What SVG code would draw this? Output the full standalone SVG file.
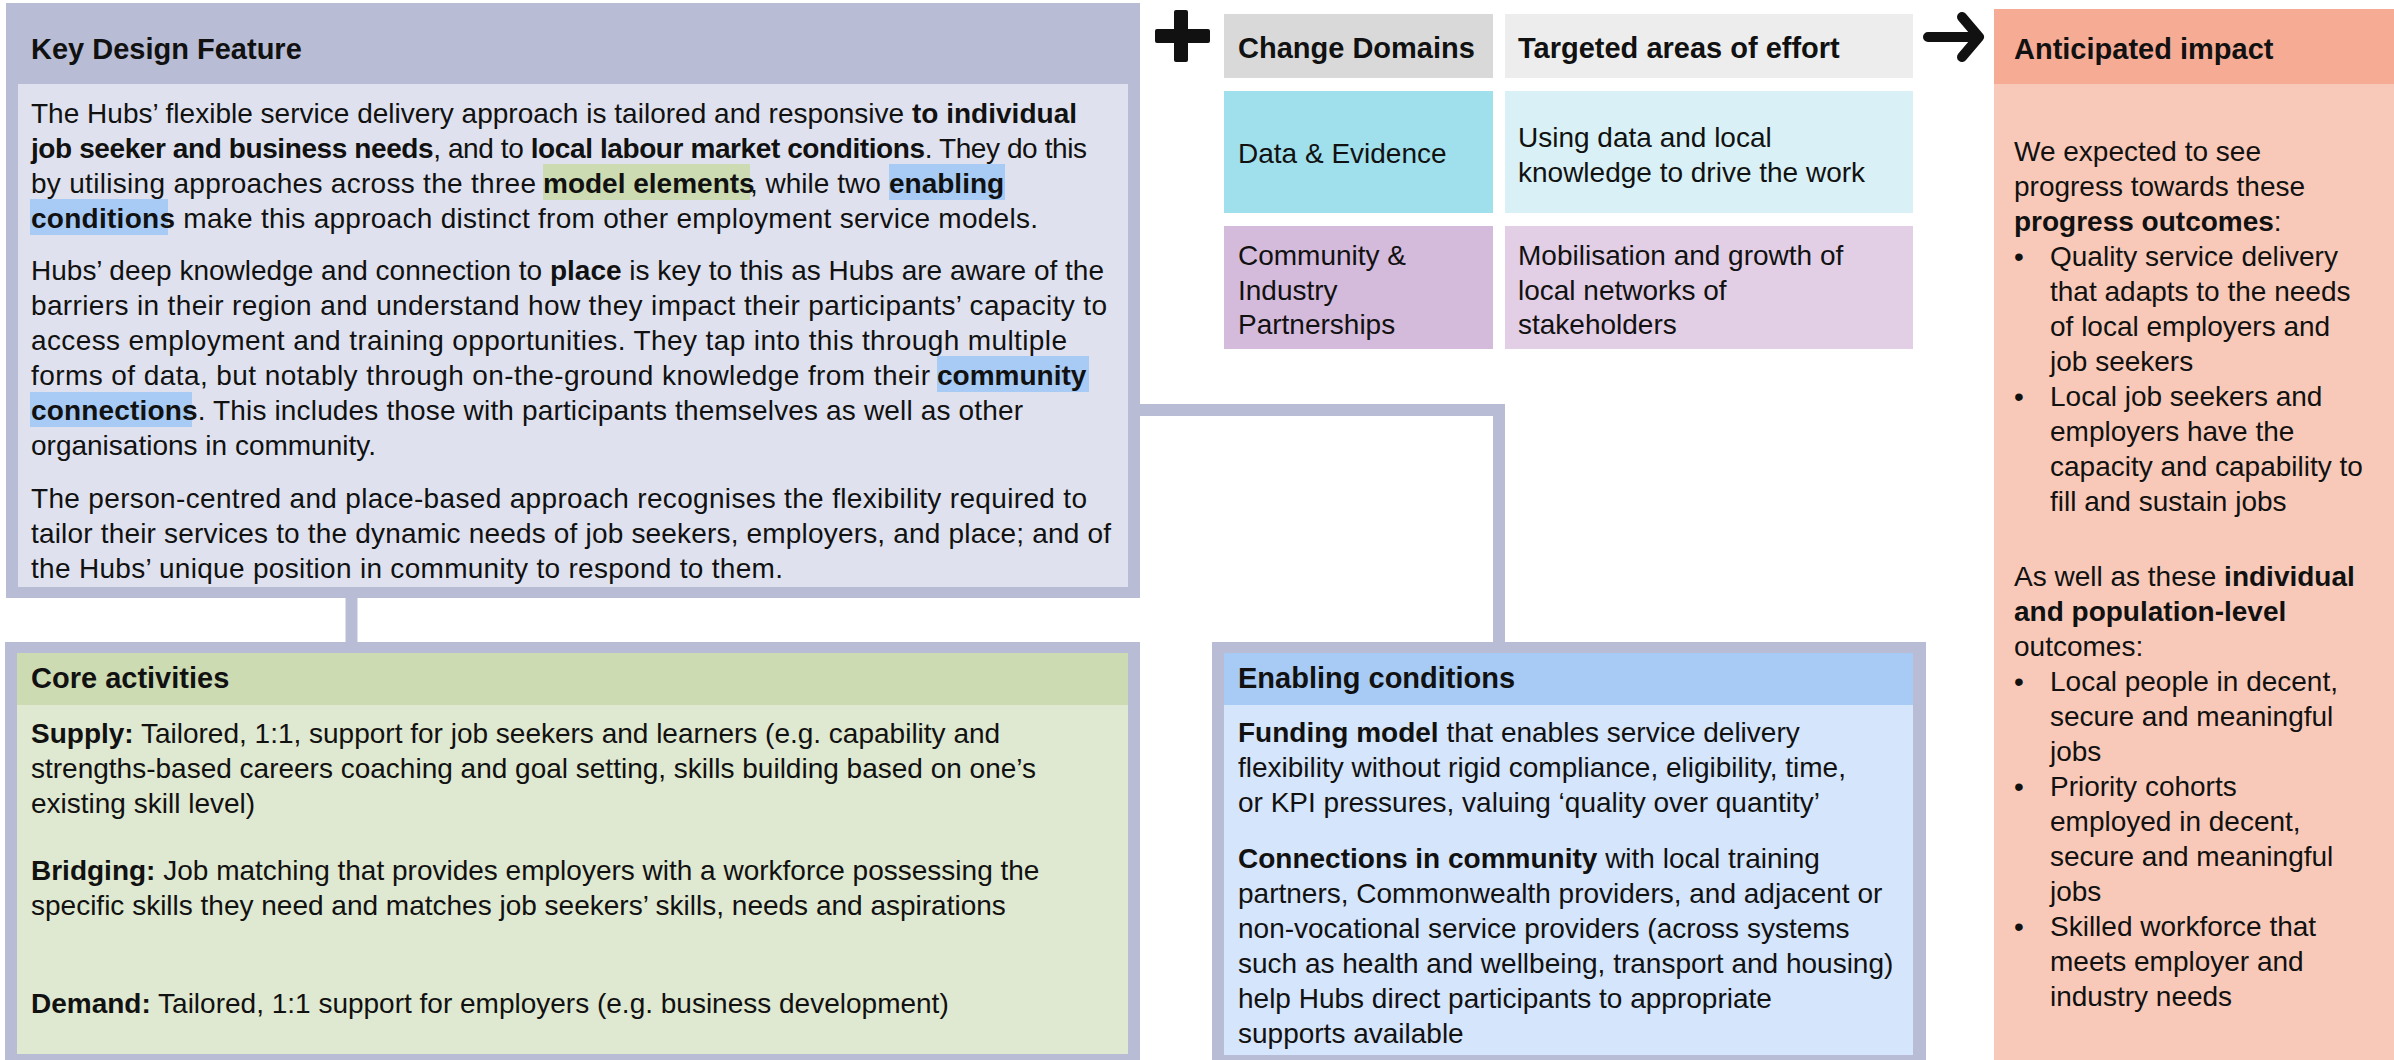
<svg xmlns="http://www.w3.org/2000/svg" width="2394" height="1060" viewBox="0 0 2394 1060">
<style>
text{font-family:"Liberation Sans",Arial,sans-serif;font-size:28px;fill:#111}
.h{font-weight:bold;font-size:29px}
.b{font-weight:bold}
.frame{fill:#b8bdd5}
.conn{fill:none;stroke:#b8bdd5;stroke-width:12;stroke-linejoin:miter}
</style>
<rect width="2394" height="1060" fill="#ffffff"/>
<g id="connectors">
<path class="conn" d="M351.5 598 V643"/>
<path class="conn" d="M1140 410 H1499 V643"/>
</g>
<g id="key-design-feature">
<rect class="frame" x="6" y="3" width="1134" height="595"/>
<rect x="18" y="84" width="1110" height="503" fill="#dfe2ee"/>
<rect x="543" y="164" width="207" height="36" fill="#cddbb3"/>
<rect x="889" y="164" width="116" height="36" fill="#a8cbf5"/>
<rect x="30" y="199" width="138" height="36" fill="#a8cbf5"/>
<rect x="937" y="356" width="152" height="36" fill="#a8cbf5"/>
<rect x="30" y="392" width="162" height="35" fill="#a8cbf5"/>
<text class="h" x="31" y="59">Key Design Feature</text>
<text x="31" y="123" textLength="1046" lengthAdjust="spacing">The Hubs’ flexible service delivery approach is tailored and responsive <tspan class="b">to individual</tspan></text>
<text x="31" y="158" textLength="1056" lengthAdjust="spacing"><tspan class="b">job seeker and business needs</tspan>, and to <tspan class="b">local labour market conditions</tspan>. They do this</text>
<text x="31" y="193" textLength="505" lengthAdjust="spacing">by utilising approaches across the three</text>
<text class="b" x="543" y="193">model elements</text>
<text x="750" y="193">, while two</text>
<text class="b" x="889" y="193">enabling</text>
<text x="31" y="228" textLength="1007" lengthAdjust="spacing"><tspan class="b">conditions</tspan> make this approach distinct from other employment service models.</text>
<text x="31" y="280" textLength="1073" lengthAdjust="spacing">Hubs’ deep knowledge and connection to <tspan class="b">place</tspan> is key to this as Hubs are aware of the</text>
<text x="31" y="315" textLength="1076" lengthAdjust="spacing">barriers in their region and understand how they impact their participants’ capacity to</text>
<text x="31" y="350" textLength="1036" lengthAdjust="spacing">access employment and training opportunities. They tap into this through multiple</text>
<text x="31" y="385" textLength="899" lengthAdjust="spacing">forms of data, but notably through on-the-ground knowledge from their</text>
<text class="b" x="937" y="385">community</text>
<text x="31" y="420" textLength="992" lengthAdjust="spacing"><tspan class="b">connections</tspan>. This includes those with participants themselves as well as other</text>
<text x="31" y="455">organisations in community.</text>
<text x="31" y="508" textLength="1056" lengthAdjust="spacing">The person-centred and place-based approach recognises the flexibility required to</text>
<text x="31" y="543" textLength="1080" lengthAdjust="spacing">tailor their services to the dynamic needs of job seekers, employers, and place; and of</text>
<text x="31" y="578" textLength="752" lengthAdjust="spacing">the Hubs’ unique position in community to respond to them.</text>
</g>
<g id="core-activities">
<rect class="frame" x="5" y="642" width="1135" height="418"/>
<rect x="17" y="653" width="1111" height="401" fill="#dfe8d0"/>
<rect x="17" y="653" width="1111" height="52" fill="#cddbb3"/>
<text class="h" x="31" y="688">Core activities</text>
<text x="31" y="743"><tspan class="b">Supply:</tspan> Tailored, 1:1, support for job seekers and learners (e.g. capability and</text>
<text x="31" y="778">strengths-based careers coaching and goal setting, skills building based on one’s</text>
<text x="31" y="813">existing skill level)</text>
<text x="31" y="880"><tspan class="b">Bridging:</tspan> Job matching that provides employers with a workforce possessing the</text>
<text x="31" y="915">specific skills they need and matches job seekers’ skills, needs and aspirations</text>
<text x="31" y="1013"><tspan class="b">Demand:</tspan> Tailored, 1:1 support for employers (e.g. business development)</text>
</g>
<g id="plus-sign">
<rect x="1155" y="29" width="55" height="14" rx="2" fill="#111"/>
<rect x="1174" y="10" width="14" height="52" rx="2" fill="#111"/>
</g>
<g id="change-domains-header">
<rect x="1224" y="14" width="269" height="64" fill="#d9d9d9"/>
<text class="h" x="1238" y="58">Change Domains</text>
</g>
<g id="targeted-areas-header">
<rect x="1505" y="14" width="408" height="64" fill="#ededed"/>
<text class="h" x="1518" y="58">Targeted areas of effort</text>
</g>
<g id="data-evidence">
<rect x="1224" y="91" width="269" height="122" fill="#a0e0ec"/>
<text x="1238" y="163">Data &amp; Evidence</text>
</g>
<g id="data-effort">
<rect x="1505" y="91" width="408" height="122" fill="#d9f1f6"/>
<text x="1518" y="147">Using data and local</text>
<text x="1518" y="182">knowledge to drive the work</text>
</g>
<g id="community-industry">
<rect x="1224" y="226" width="269" height="123" fill="#d5bbdb"/>
<text x="1238" y="265">Community &amp;</text>
<text x="1238" y="300">Industry</text>
<text x="1238" y="334">Partnerships</text>
</g>
<g id="community-effort">
<rect x="1505" y="226" width="408" height="123" fill="#e2cfe5"/>
<text x="1518" y="265">Mobilisation and growth of</text>
<text x="1518" y="300">local networks of</text>
<text x="1518" y="334">stakeholders</text>
</g>
<g id="arrow">
<path d="M1928 37 H1976 M1962 17 L1979 37 L1962 57" fill="none" stroke="#111" stroke-width="10" stroke-linecap="round" stroke-linejoin="round"/>
</g>
<g id="enabling-conditions">
<rect class="frame" x="1212" y="642" width="714" height="418"/>
<rect x="1224" y="653" width="689" height="402" fill="#d5e5fb"/>
<rect x="1224" y="653" width="689" height="52" fill="#a8cbf5"/>
<text class="h" x="1238" y="688">Enabling conditions</text>
<text x="1238" y="742"><tspan class="b">Funding model</tspan> that enables service delivery</text>
<text x="1238" y="777">flexibility without rigid compliance, eligibility, time,</text>
<text x="1238" y="812">or KPI pressures, valuing ‘quality over quantity’</text>
<text x="1238" y="868"><tspan class="b">Connections in community</tspan> with local training</text>
<text x="1238" y="903">partners, Commonwealth providers, and adjacent or</text>
<text x="1238" y="938">non-vocational service providers (across systems</text>
<text x="1238" y="973">such as health and wellbeing, transport and housing)</text>
<text x="1238" y="1008">help Hubs direct participants to appropriate</text>
<text x="1238" y="1043">supports available</text>
</g>
<g id="anticipated-impact">
<rect x="1994" y="9" width="400" height="1051" fill="#f8c9b8"/>
<rect x="1994" y="9" width="400" height="75" fill="#f6ab95"/>
<text class="h" x="2014" y="59">Anticipated impact</text>
<text x="2014" y="161">We expected to see</text>
<text x="2014" y="196">progress towards these</text>
<text x="2014" y="231"><tspan class="b">progress outcomes</tspan>:</text>
<text x="2014" y="266">•</text><text x="2050" y="266">Quality service delivery</text>
<text x="2050" y="301">that adapts to the needs</text>
<text x="2050" y="336">of local employers and</text>
<text x="2050" y="371">job seekers</text>
<text x="2014" y="406">•</text><text x="2050" y="406">Local job seekers and</text>
<text x="2050" y="441">employers have the</text>
<text x="2050" y="476">capacity and capability to</text>
<text x="2050" y="511">fill and sustain jobs</text>
<text x="2014" y="586">As well as these <tspan class="b">individual</tspan></text>
<text class="b" x="2014" y="621">and population-level</text>
<text x="2014" y="656">outcomes:</text>
<text x="2014" y="691">•</text><text x="2050" y="691">Local people in decent,</text>
<text x="2050" y="726">secure and meaningful</text>
<text x="2050" y="761">jobs</text>
<text x="2014" y="796">•</text><text x="2050" y="796">Priority cohorts</text>
<text x="2050" y="831">employed in decent,</text>
<text x="2050" y="866">secure and meaningful</text>
<text x="2050" y="901">jobs</text>
<text x="2014" y="936">•</text><text x="2050" y="936">Skilled workforce that</text>
<text x="2050" y="971">meets employer and</text>
<text x="2050" y="1006">industry needs</text>
</g>
</svg>
